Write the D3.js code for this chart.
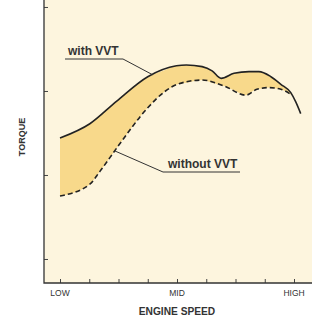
<!DOCTYPE html>
<html>
<head>
<meta charset="utf-8">
<script src="https://cdn.jsdelivr.net/npm/d3@7"></script>
<style>
  html, body { margin: 0; padding: 0; background: #fff; }
  text { font-family: "Liberation Sans", Arial, sans-serif; fill: #333; }
</style>
</head>
<body>
<div id="chart"></div>
<script>
// engine speed positions, 0 = LOW, 4 = MID, 8 = HIGH
const speedTicks = [0, 1, 2, 3, 4, 5, 6, 7, 8];
const speedLabels = [{ v: 0, t: 'LOW' }, { v: 4, t: 'MID' }, { v: 8, t: 'HIGH' }];
const torqueTicks = [1, 2, 3, 4];

// torque curve with VVT (solid)
const withSpeed  = [0, 1.02, 1.94, 3.0, 3.98, 4.32, 4.86, 5.2, 5.51, 5.95, 6.46, 6.8, 7.21, 7.55, 7.89, 8.06, 8.23];
const withTorque = [2.44, 2.61, 2.88, 3.17, 3.30, 3.31, 3.29, 3.24, 3.15, 3.21, 3.23, 3.23, 3.17, 3.08, 2.98, 2.87, 2.73];

// torque curve without VVT (dashed)
const withoutSpeed  = [0, 1.02, 1.36, 2.0, 3.0, 3.57, 4.01, 4.86, 5.61, 6.35, 6.73, 7.14, 7.55, 7.93];
const withoutTorque = [1.75, 1.89, 2.04, 2.35, 2.80, 2.99, 3.08, 3.13, 3.06, 2.95, 3.02, 3.04, 3.02, 2.95];

const width = 312, height = 320;
const plot = { left: 44, right: 312, top: 0, bottom: 283 };

const svg = d3.select('#chart')
  .append('svg')
  .attr('width', width)
  .attr('height', height);

const x = d3.scaleLinear().domain([0, 8]).range([60, 294]);
const y = d3.scaleLinear().domain([0.714, 4.083]).range([plot.bottom, plot.top]);

const withData = withSpeed.map((s, i) => ({ s, t: withTorque[i] }));
const withoutData = withoutSpeed.map((s, i) => ({ s, t: withoutTorque[i] }));

// background panel
svg.append('rect')
  .attr('x', plot.left)
  .attr('y', plot.top)
  .attr('width', plot.right - plot.left)
  .attr('height', plot.bottom - plot.top)
  .attr('fill', '#fdf5de');

// band between the two curves
const upper = d3.scaleLinear().domain(withSpeed).range(withTorque);
const bandEnd = withoutSpeed[withoutSpeed.length - 1];
const bandData = withoutData.map(d => ({ s: d.s, lo: d.t, hi: upper(d.s) }));
// add the upper curve's own points so the top edge follows it
withData.filter(d => d.s < bandEnd).forEach(d => {
  const lower = d3.scaleLinear().domain(withoutSpeed).range(withoutTorque);
  bandData.push({ s: d.s, lo: lower(d.s), hi: d.t });
});
bandData.sort((a, b) => a.s - b.s);

svg.append('path')
  .datum(bandData)
  .attr('fill', '#f8d98b')
  .attr('d', d3.area()
    .x(d => x(d.s))
    .y0(d => y(d.lo))
    .y1(d => y(d.hi))
    .curve(d3.curveMonotoneX));

const line = d3.line()
  .x(d => x(d.s))
  .y(d => y(d.t))
  .curve(d3.curveMonotoneX);

svg.append('path')
  .datum(withData)
  .attr('fill', 'none')
  .attr('stroke', '#222')
  .attr('stroke-width', 1.6)
  .attr('d', line);

svg.append('path')
  .datum(withoutData)
  .attr('fill', 'none')
  .attr('stroke', '#222')
  .attr('stroke-width', 1.6)
  .attr('stroke-dasharray', '5,3')
  .attr('d', line);

// axes
const xAxis = d3.axisTop(x)
  .tickValues(speedTicks)
  .tickSize(4)
  .tickFormat('');

svg.append('g')
  .attr('transform', `translate(0,${plot.bottom})`)
  .call(xAxis)
  .call(g => g.select('.domain').remove())
  .call(g => g.selectAll('line').attr('stroke', '#444'));

const yAxis = d3.axisRight(y)
  .tickValues(torqueTicks)
  .tickSize(4)
  .tickFormat('');

svg.append('g')
  .attr('transform', `translate(${plot.left},0)`)
  .call(yAxis)
  .call(g => g.select('.domain').remove())
  .call(g => g.selectAll('line').attr('stroke', '#444'));

svg.append('path')
  .attr('d', `M${plot.left},${plot.top}V${plot.bottom}H${plot.right}`)
  .attr('fill', 'none')
  .attr('stroke', '#333')
  .attr('stroke-width', 1.3);

svg.selectAll('.speed-label')
  .data(speedLabels)
  .enter()
  .append('text')
  .attr('class', 'speed-label')
  .attr('x', d => x(d.v))
  .attr('y', 296)
  .attr('text-anchor', 'middle')
  .attr('font-size', 8.5)
  .text(d => d.t);

svg.append('text')
  .attr('x', x(4))
  .attr('y', 315)
  .attr('text-anchor', 'middle')
  .attr('font-size', 10.2)
  .attr('font-weight', 'bold')
  .text('ENGINE SPEED');

svg.append('text')
  .attr('transform', `translate(25,${137}) rotate(-90)`)
  .attr('text-anchor', 'middle')
  .attr('font-size', 9)
  .attr('font-weight', 'bold')
  .text('TORQUE');

// callouts
const callouts = [
  { text: 'with VVT', tx: 68, ty: 55, under: [65, 123], curve: withData, at: 3.17 },
  { text: 'without VVT', tx: 168, ty: 168, under: [163, 240], curve: withoutData, at: 1.87 },
];

callouts.forEach(c => {
  const interp = d3.scaleLinear().domain(c.curve.map(d => d.s)).range(c.curve.map(d => d.t));
  const px = x(c.at), py = y(interp(c.at));
  const startX = c === callouts[0] ? c.under[1] : c.under[0];
  const uy = c.ty + 4;
  svg.append('path')
    .attr('d', `M${c.under[0]},${uy}H${c.under[1]}M${startX},${uy}L${px},${py}`)
    .attr('fill', 'none')
    .attr('stroke', '#333')
    .attr('stroke-width', 1);
  svg.append('text')
    .attr('x', c.tx)
    .attr('y', c.ty)
    .attr('font-size', 12)
    .attr('font-weight', 'bold')
    .text(c.text);
});
</script>
</body>
</html>
